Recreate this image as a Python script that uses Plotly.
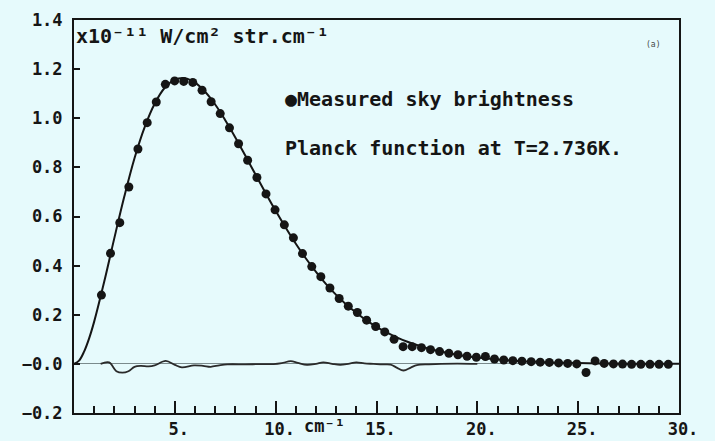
import plotly.graph_objects as go

# Measured sky brightness (x10^-11 W/cm^2 sr cm^-1) vs wavenumber (cm^-1)
meas_sigma = [1.36, 1.81, 2.27, 2.72, 3.17, 3.63, 4.08, 4.53, 4.99, 5.44, 5.89, 6.35, 6.80, 7.25,
              7.71, 8.16, 8.61, 9.07, 9.52, 9.97, 10.43, 10.88, 11.33, 11.79, 12.24, 12.69, 13.15,
              13.60, 14.05, 14.51, 14.96, 15.41, 15.87, 16.32, 16.77, 17.23, 17.68, 18.13, 18.59,
              19.04, 19.49, 19.95, 20.40, 20.85, 21.31, 21.76, 22.21, 22.67, 23.12, 23.57, 24.03,
              24.48, 24.93, 25.39, 25.84, 26.29, 26.75, 27.20, 27.65, 28.11, 28.56, 29.01, 29.47]
meas_value = [0.28, 0.45, 0.575, 0.72, 0.875, 0.982, 1.066, 1.138, 1.152, 1.150, 1.146, 1.114,
              1.067, 1.019, 0.961, 0.896, 0.829, 0.759, 0.692, 0.627, 0.566, 0.513, 0.449, 0.396,
              0.355, 0.309, 0.266, 0.235, 0.209, 0.178, 0.152, 0.130, 0.100, 0.070, 0.070, 0.066,
              0.058, 0.050, 0.043, 0.037, 0.031, 0.027, 0.030, 0.020, 0.016, 0.013, 0.011, 0.009,
              0.007, 0.006, 0.004, 0.002, 0.000, -0.035, 0.012, 0.002, 0.000, -0.001, -0.002,
              -0.002, -0.002, -0.002, -0.002]

# Planck function curve at T = 2.736 K
planck_sigma = [0, 0.25, 0.5, 0.75, 1, 1.5, 2, 2.5, 3, 3.5, 4, 4.5, 5, 5.5, 6, 6.5, 7, 7.5, 8,
                8.5, 9, 9.5, 10, 10.5, 11, 11.5, 12, 12.5, 13, 13.5, 14, 14.5, 15, 15.5, 16,
                16.5, 17, 17.5, 18, 18.5, 19, 19.5, 20, 21, 22, 23, 24, 25, 26, 27, 28, 29, 30]
planck_value = [0, 0.013, 0.050, 0.104, 0.172, 0.335, 0.512, 0.683, 0.837, 0.963, 1.059, 1.124,
                1.157, 1.163, 1.145, 1.108, 1.056, 0.992, 0.922, 0.847, 0.771, 0.696, 0.623,
                0.554, 0.489, 0.429, 0.375, 0.325, 0.281, 0.242, 0.208, 0.177, 0.151, 0.128,
                0.108, 0.091, 0.077, 0.064, 0.054, 0.045, 0.037, 0.031, 0.026, 0.018, 0.012,
                0.008, 0.005, 0.004, 0.002, 0.001, 0.001, 0.0005, 0.0003]

# Residuals (measured - Planck)
resid_sigma = [1.32, 1.74, 2.1, 2.4, 2.7, 3.0, 3.3, 3.7, 4.0, 4.55, 5.0, 5.35, 5.95, 6.4, 6.78,
               7.2, 7.6, 8.5, 9.2, 9.9, 10.3, 10.75, 11.1, 11.55, 12.0, 12.36, 12.8, 13.2, 13.6,
               14.0, 14.4, 14.85, 15.3, 15.7, 16.0, 16.34, 16.7, 17.0, 17.6, 18.2, 19.0, 20.0]
resid_value = [0.0, 0.006, -0.03, -0.036, -0.03, -0.012, -0.008, -0.01, -0.006, 0.012, -0.004,
               -0.014, -0.006, -0.008, -0.012, -0.006, -0.002, -0.002, -0.001, -0.001, 0.003,
               0.011, 0.004, -0.004, 0.0, 0.006, 0.0, -0.004, 0.0, 0.006, 0.002, 0.0, -0.002,
               -0.003, -0.015, -0.027, -0.015, -0.005, -0.002, 0.0, 0.001, 0.0]

x_tickvals = [5, 10, 15, 20, 25, 30]
x_ticktext = ["5.", "10.", "15.", "20.", "25.", "30."]
y_tickvals = [-0.2, 0.0, 0.2, 0.4, 0.6, 0.8, 1.0, 1.2, 1.4]
y_ticktext = ["\u22120.2", "\u22120.0", "0.2", "0.4", "0.6", "0.8", "1.0", "1.2", "1.4"]

BG = "#E6FAFC"
INK = "#151515"
FONT = "DejaVu Sans Mono"

fig = go.Figure()
fig.add_trace(go.Scatter(x=resid_sigma, y=resid_value, mode="lines",
                         line=dict(color="#2a2a2a", width=1.8, shape="spline"),
                         showlegend=False))
fig.add_trace(go.Scatter(x=planck_sigma, y=planck_value, mode="lines",
                         line=dict(color=INK, width=2, shape="spline"),
                         showlegend=False))
fig.add_trace(go.Scatter(x=meas_sigma, y=meas_value, mode="markers",
                         marker=dict(color=INK, size=9),
                         showlegend=False))

tickfont = dict(family=FONT, size=17, color=INK, weight="bold")
fig.update_layout(
    width=715, height=441,
    margin=dict(l=74, r=36, t=20, b=28),
    paper_bgcolor=BG, plot_bgcolor=BG,
    font=dict(family=FONT, color=INK),
    xaxis=dict(range=[0, 30], showgrid=False, zeroline=False, automargin=False,
               showline=True, linecolor=INK, linewidth=2, mirror=True,
               tickmode="array", tickvals=x_tickvals, ticktext=x_ticktext,
               ticks="inside", ticklen=12, tickwidth=2, tickcolor=INK,
               tickfont=tickfont, ticklabelshift=4,
               minor=dict(dtick=1, tick0=0, ticks="inside", ticklen=7, tickwidth=2,
                          tickcolor=INK, showgrid=False)),
    yaxis=dict(range=[-0.2, 1.4], showgrid=False, automargin=False,
               zeroline=True, zerolinecolor="#7a8a8c", zerolinewidth=1,
               showline=True, linecolor=INK, linewidth=2, mirror=True,
               tickmode="array", tickvals=y_tickvals, ticktext=y_ticktext,
               ticks="inside", ticklen=6, tickwidth=2, tickcolor=INK,
               tickfont=tickfont, ticklabelstandoff=6),
)

fig.add_annotation(x=11.3, y=-0.2, xref="x", yref="y", yshift=-13, xanchor="left",
                   yanchor="middle", showarrow=False, text="cm\u207b\u00b9",
                   font=dict(family=FONT, size=17, color=INK, weight="bold"))
fig.add_annotation(x=0.02, y=1.335, xref="x", yref="y", xanchor="left", yanchor="middle",
                   showarrow=False, text="x10\u207b\u00b9\u00b9 W/cm\u00b2 str.cm\u207b\u00b9",
                   font=dict(family=FONT, size=20, color=INK, weight="bold"))
fig.add_annotation(x=10.37, y=1.078, xref="x", yref="y", xanchor="left", yanchor="middle",
                   showarrow=False, text="\u25cfMeasured sky brightness",
                   font=dict(family=FONT, size=20, color=INK, weight="bold"))
fig.add_annotation(x=10.37, y=0.88, xref="x", yref="y", xanchor="left", yanchor="middle",
                   showarrow=False, text="Planck function at T=2.736K.",
                   font=dict(family=FONT, size=20, color=INK, weight="bold"))
fig.add_annotation(x=28.7, y=1.30, xref="x", yref="y", xanchor="center", yanchor="middle",
                   showarrow=False, text="(a)",
                   font=dict(family=FONT, size=8, color="#444444"))

fig.write_html("out.html", config={"displayModeBar": False},
               post_script="document.body.style.margin='0';document.body.style.overflow='hidden';")
